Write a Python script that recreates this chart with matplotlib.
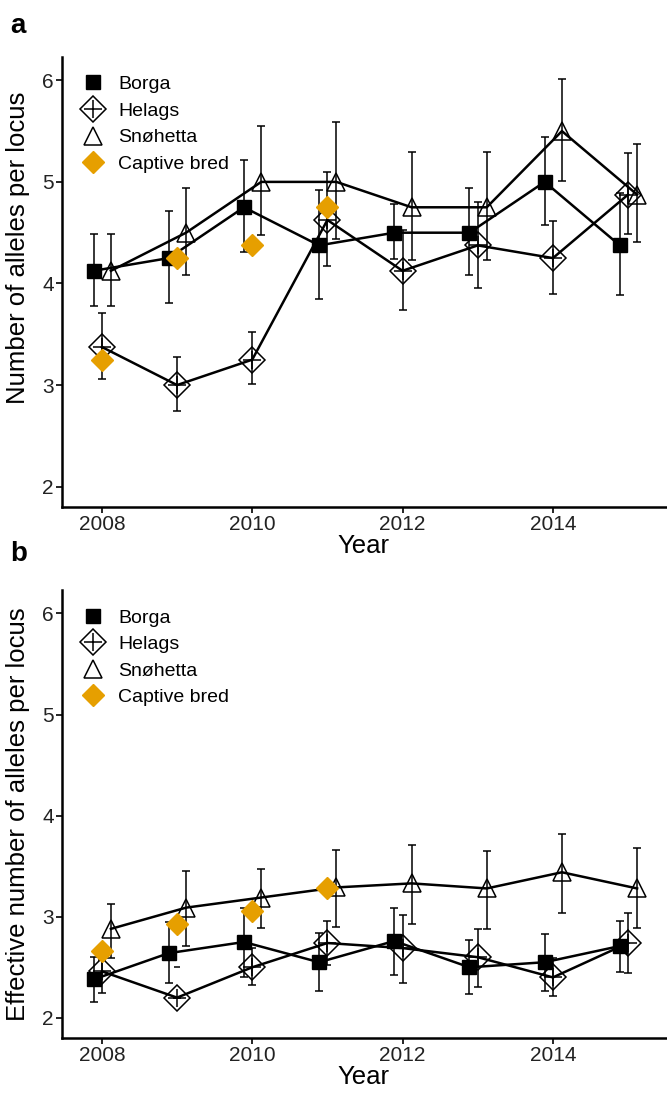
import numpy as np
import matplotlib
matplotlib.use("Agg")
import matplotlib.pyplot as plt
from matplotlib.lines import Line2D
from matplotlib.legend_handler import HandlerTuple

plt.rcParams['font.family'] = ['Liberation Sans', 'DejaVu Sans']

years = np.arange(2008, 2016)
captive_years = np.arange(2008, 2012)

# panel a: number of alleles per locus
borga_a = [4.125, 4.25, 4.75, 4.375, 4.5, 4.5, 5.0, 4.375]
borga_a_hi = [4.49, 4.71, 5.22, 4.92, 4.78, 4.94, 5.44, 4.89]
borga_a_lo = [3.78, 3.81, 4.31, 3.85, 4.24, 4.08, 4.58, 3.89]
helags_a = [3.375, 3.0, 3.25, 4.625, 4.125, 4.375, 4.25, 4.875]
helags_a_hi = [3.71, 3.28, 3.52, 5.10, 4.53, 4.80, 4.62, 5.28]
helags_a_lo = [3.06, 2.74, 3.01, 4.17, 3.74, 3.96, 3.90, 4.49]
snoh_a = [4.125, 4.5, 5.0, 5.0, 4.75, 4.75, 5.5, 4.875]
snoh_a_hi = [4.49, 4.94, 5.55, 5.59, 5.29, 5.29, 6.01, 5.37]
snoh_a_lo = [3.78, 4.08, 4.48, 4.44, 4.23, 4.23, 5.01, 4.41]
captive_a = [3.25, 4.25, 4.375, 4.75]

# panel b: effective number of alleles per locus
borga_b = [2.38, 2.64, 2.75, 2.55, 2.76, 2.50, 2.55, 2.71]
borga_b_hi = [2.60, 2.95, 3.09, 2.84, 3.09, 2.77, 2.83, 2.96]
borga_b_lo = [2.16, 2.34, 2.40, 2.27, 2.42, 2.24, 2.27, 2.45]
helags_b = [2.46, 2.20, 2.50, 2.74, 2.69, 2.60, 2.40, 2.74]
helags_b_hi = [2.57, 2.20, 2.69, 2.96, 3.02, 2.88, 2.59, 3.04]
helags_b_lo = [2.25, 2.20, 2.32, 2.52, 2.34, 2.31, 2.22, 2.44]
helags_b_stray_cap = 2.50  # lone cap drawn at 2009 in the original
snoh_b = [2.88, 3.09, 3.19, 3.29, 3.33, 3.28, 3.44, 3.28]
snoh_b_hi = [3.13, 3.45, 3.47, 3.66, 3.71, 3.65, 3.82, 3.68]
snoh_b_lo = [2.59, 2.71, 2.89, 2.90, 2.93, 2.88, 3.04, 2.89]
captive_b = [2.66, 2.93, 3.06, 3.28]

ORANGE = '#E69F00'
dodge = {'Borga': -0.11, 'Helags': 0.0, 'Snøhetta': 0.12}

# marker styles shared by plot and legend
SQ = dict(marker='s', ms=9.5, color='black', ls='none')
DIA = dict(marker='D', ms=13, mfc='none', mec='black', mew=1.1, ls='none')
PLUS = dict(marker='+', ms=13, mec='black', mew=1.1, ls='none')
TRI = dict(marker='^', ms=13, mfc='none', mec='black', mew=1.1, ls='none')
CAP = dict(marker='D', ms=11.5, color=ORANGE, ls='none')


def draw_series(ax, x, y, hi, lo, kind):
    y = np.asarray(y)
    yerr = [y - np.asarray(lo), np.asarray(hi) - y]
    ax.errorbar(x, y, yerr=yerr, fmt='none', ecolor='black', elinewidth=1.1,
                capsize=3, capthick=1.1, zorder=2)
    ax.plot(x, y, color='black', lw=1.8, zorder=3)
    if kind == 'Borga':
        ax.plot(x, y, zorder=4, **SQ)
    elif kind == 'Helags':
        ax.plot(x, y, zorder=4, **DIA)
        ax.plot(x, y, zorder=4, **PLUS)
    else:
        ax.plot(x, y, zorder=4, **TRI)


def panel(ax, data, captive, ylabel, ylabel_y):
    for name, (y, hi, lo) in data.items():
        draw_series(ax, years + dodge[name], y, hi, lo, name)
    ax.plot(captive_years, captive, zorder=5, **CAP)
    ax.set_xlim(2007.47, 2015.5)
    ax.set_ylim(1.8, 6.23)
    ax.set_xticks([2008, 2010, 2012, 2014])
    ax.set_yticks([2, 3, 4, 5, 6])
    ax.spines['top'].set_visible(False)
    ax.spines['right'].set_visible(False)
    for s in ['left', 'bottom']:
        ax.spines[s].set_linewidth(1.8)
    ax.tick_params(axis='both', labelsize=15, width=1.2, length=4, color='black',
                   labelcolor='#222222', pad=2)
    ax.set_xlabel('Year', fontsize=18.5, labelpad=0)
    ax.set_ylabel(ylabel, fontsize=18.5)
    ax.yaxis.set_label_coords(-0.053, ylabel_y)

    handles = [Line2D([], [], **SQ),
               (Line2D([], [], **DIA), Line2D([], [], **PLUS)),
               Line2D([], [], **TRI),
               Line2D([], [], **CAP)]
    ax.legend(handles, ['Borga', 'Helags', 'Snøhetta', 'Captive bred'],
              handler_map={tuple: HandlerTuple(ndivide=1, pad=0)},
              loc='upper left', bbox_to_anchor=(0.0, 0.993), frameon=False,
              fontsize=14, handletextpad=0.5, labelspacing=0.46,
              borderaxespad=0.4, handlelength=1.6)


fig = plt.figure(figsize=(6.67, 10.95), dpi=100)
ax_a = fig.add_axes([0.093, 0.537, 0.905, 0.411])
ax_b = fig.add_axes([0.093, 0.052, 0.905, 0.409])

panel(ax_a, {'Borga': (borga_a, borga_a_hi, borga_a_lo),
             'Helags': (helags_a, helags_a_hi, helags_a_lo),
             'Snøhetta': (snoh_a, snoh_a_hi, snoh_a_lo)},
      captive_a, 'Number of alleles per locus', 0.575)
panel(ax_b, {'Borga': (borga_b, borga_b_hi, borga_b_lo),
             'Helags': (helags_b, helags_b_hi, helags_b_lo),
             'Snøhetta': (snoh_b, snoh_b_hi, snoh_b_lo)},
      captive_b, 'Effective number of alleles per locus', 0.5)
ax_b.plot([2009], [helags_b_stray_cap], '_', ms=5, mew=1.1, color='black', zorder=2)

fig.text(0.015, 0.988, 'a', fontsize=20, fontweight='bold', va='top')
fig.text(0.015, 0.506, 'b', fontsize=20, fontweight='bold', va='top')

fig.savefig('out.png', dpi=100)
